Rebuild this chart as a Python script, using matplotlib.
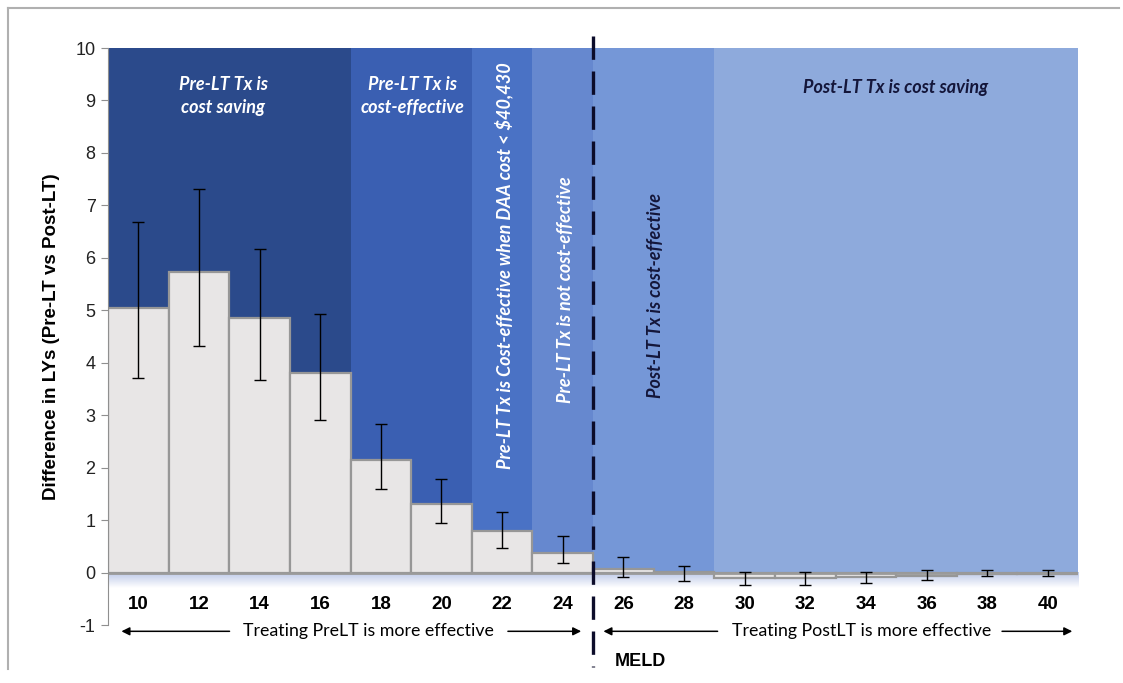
import numpy as np
import matplotlib.pyplot as plt
from matplotlib.lines import Line2D
from matplotlib.colors import LinearSegmentedColormap

# MELD score categories and life-year differences (Pre-LT vs Post-LT)
meld = [10, 12, 14, 16, 18, 20, 22, 24, 26, 28, 30, 32, 34, 36, 38, 40]
ly_diff = [5.05, 5.73, 4.85, 3.81, 2.15, 1.31, 0.80, 0.38, 0.07, 0.02,
           -0.11, -0.11, -0.08, -0.06, -0.03, -0.02]
ci_low = [3.70, 4.32, 3.68, 2.91, 1.60, 0.95, 0.46, 0.19, -0.08, -0.17,
          -0.23, -0.23, -0.19, -0.15, -0.07, -0.06]
ci_high = [6.69, 7.31, 6.17, 4.93, 2.84, 1.79, 1.16, 0.70, 0.30, 0.13,
           0.02, 0.02, 0.02, 0.04, 0.04, 0.04]

# Cost-effectiveness zones along the MELD axis
zone_edges = [9, 17, 21, 23, 25, 29, 41]
zone_colors = ['#2b4a8b', '#3a5fb2', '#4a72c5', '#6688cf', '#7597d7', '#8eaadc']

yticks = list(range(-1, 11))

fig = plt.figure(figsize=(11.23, 6.83), dpi=100)
ax = fig.add_axes([0.0962, 0.0849, 0.8638, 0.8448])
ax.set_xlim(9, 41)
ax.set_ylim(-1, 10)

for x0, x1, c in zip(zone_edges[:-1], zone_edges[1:], zone_colors):
    ax.axvspan(x0, x1, ymin=1 / 11, ymax=1, color=c, lw=0, zorder=0)

# soft fade just below the zero line
fade = LinearSegmentedColormap.from_list('fade', ['#bcc8e8', '#ffffff'])
ax.imshow(np.linspace(0, 1, 50).reshape(-1, 1), cmap=fade, aspect='auto',
          extent=[9, 41, -0.3, 0], zorder=0.5)

err = [np.array(ly_diff) - np.array(ci_low), np.array(ci_high) - np.array(ly_diff)]
ax.bar(meld, ly_diff, width=2, color='#e8e6e6', edgecolor='#979797', lw=1.6,
       zorder=2)
ax.errorbar(meld, ly_diff, yerr=err, fmt='none', ecolor='black', elinewidth=1,
            capsize=4, capthick=1, zorder=3)
ax.axhline(0, color='#9a9a9a', lw=2, zorder=2.5)

ax.set_yticks(yticks)
ax.set_yticklabels([str(v) for v in yticks], fontsize=13, family='Liberation Sans',
                   color='#222222')
ax.tick_params(axis='y', length=5, color='#8f8f8f', pad=4)
ax.set_xticks([])
for s in ['top', 'right', 'bottom']:
    ax.spines[s].set_visible(False)
ax.spines['left'].set_color('#8f8f8f')
ax.set_ylabel('Difference in LYs (Pre-LT vs Post-LT)', fontsize=13.5,
              fontweight='bold', family='Liberation Sans', labelpad=11)

for m in meld:
    ax.text(m, -0.6, str(m), ha='center', va='center', fontsize=13.5,
            fontweight='bold', family='Liberation Sans')

zone_font = dict(family='Lato', style='italic', fontweight='bold', fontsize=13)
ax.text(12.8, 9.08, 'Pre-LT Tx is\ncost saving', ha='center', va='center',
        color='white', linespacing=1.4, **zone_font)
ax.text(19.05, 9.08, 'Pre-LT Tx is\ncost-effective', ha='center', va='center',
        color='white', linespacing=1.4, **zone_font)
ax.text(22.05, 5.85, 'Pre-LT Tx is Cost-effective when DAA cost < $40,430',
        rotation=90, ha='center', va='center', color='white', **zone_font)
ax.text(24.1, 5.4, 'Pre-LT Tx is not cost-effective', rotation=90,
        ha='center', va='center', color='white', **zone_font)
ax.text(27.05, 5.28, 'Post-LT Tx is cost-effective', rotation=90,
        ha='center', va='center', color='#14163a', **zone_font)
ax.text(34.97, 9.24, 'Post-LT Tx is cost saving', ha='center', va='center',
        color='#14163a', **zone_font)

# threshold between treatment strategies
ax.plot([25, 25], [10.22, -1.8], color='#0c0c2a', lw=2.4, ls=(0, (7, 3.5)),
        clip_on=False, zorder=4)

arrow = dict(arrowstyle='-|>', color='black', lw=1.1, mutation_scale=12)
ya = -1.12
ax.annotate('', xy=(9.35, ya), xytext=(13.1, ya), arrowprops=arrow,
            annotation_clip=False)
ax.annotate('', xy=(24.7, ya), xytext=(22.1, ya), arrowprops=arrow,
            annotation_clip=False)
ax.annotate('', xy=(25.25, ya), xytext=(29.2, ya), arrowprops=arrow,
            annotation_clip=False)
ax.annotate('', xy=(40.9, ya), xytext=(38.4, ya), arrowprops=arrow,
            annotation_clip=False)
ax.text(17.6, ya, 'Treating PreLT is more effective', ha='center', va='center',
        fontsize=12.8, family='Lato', clip_on=False)
ax.text(33.85, ya, 'Treating PostLT is more effective', ha='center',
        va='center', fontsize=12.8, family='Lato', clip_on=False)
ax.text(26.55, -1.7, 'MELD', ha='center', va='center', fontsize=13,
        fontweight='bold', family='Liberation Sans', clip_on=False)

# frame lines at the top and left of the figure
fig.add_artist(Line2D([0.007, 0.996], [0.988, 0.988], color='#b0b0b0', lw=1.5))
fig.add_artist(Line2D([0.007, 0.007], [0.988, 0.02], color='#b0b0b0', lw=1.5))

fig.savefig('out.png', dpi=100)
